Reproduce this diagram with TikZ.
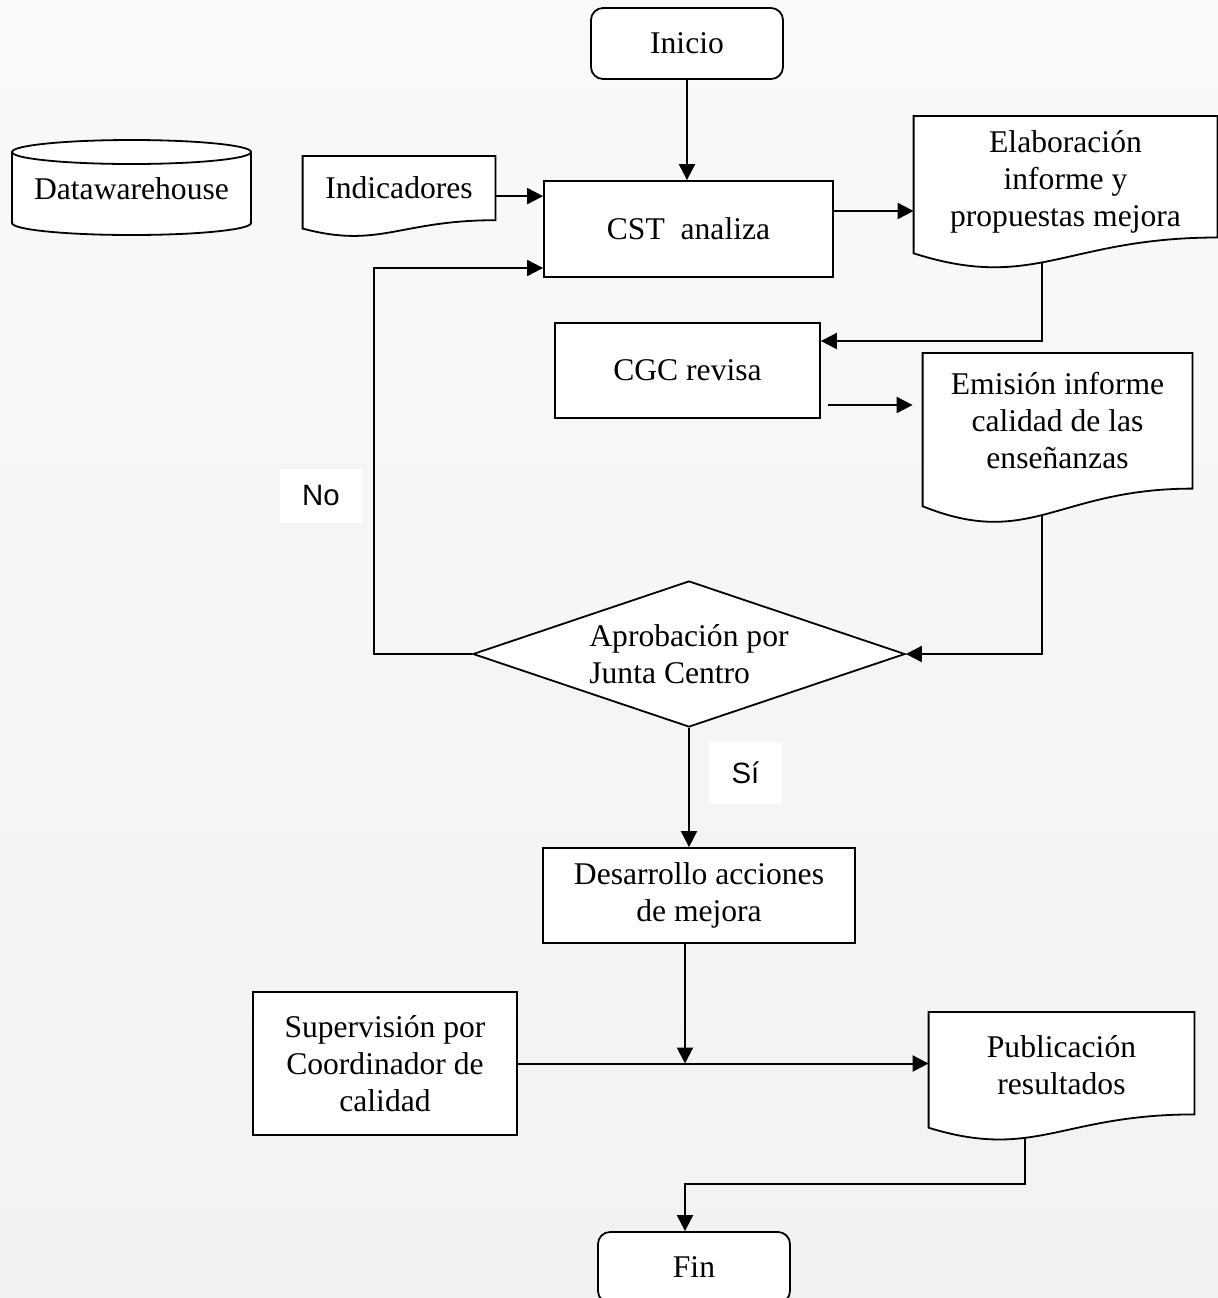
\documentclass[tikz,border=0pt]{standalone}
\usepackage{fontspec}
\setmainfont{Liberation Serif}
\newfontfamily\labelfont{Liberation Sans}
\usetikzlibrary{calc,shapes.geometric,arrows.meta}
\pgfdeclarelayer{bg}
\pgfdeclarelayer{wires}
\pgfdeclarelayer{docs}
\pgfsetlayers{bg,wires,docs,main}
\definecolor{bgtop}{HTML}{F9F9F9}
\definecolor{bgmid}{HTML}{DEDEDE}
\definecolor{bgbot}{HTML}{F2F2F2}

% wavy document outline under a named node (#1 = extra room on top)
\newcommand{\docshape}[2][0]{%
  \draw[docline] let \p1=($(#2.north west)+(0,-#1)$), \p2=(#2.south east) in
    (\p1) -- (\x2,\y1) -- (\p2)
    .. controls ({(\x1+\x2)/2},\y2) and ({\x1+0.4*(\x2-\x1)},{\y2-0.45*(\y1-\y2)}) ..
    (\x1,{\y2-0.13*(\y1-\y2)}) -- cycle;}

\begin{document}
\begin{tikzpicture}[x=0.5pt,y=-0.5pt,
  every node/.style={font=\fontsize{15.8}{18.5}\selectfont},
  box/.style={draw,fill=white,line width=0.9pt,inner sep=2pt,align=center},
  term/.style={box,rounded corners=6pt,minimum width=96pt,minimum height=35.5pt},
  doc/.style={anchor=north,inner sep=2pt,align=center},
  tag/.style={fill=white,inner sep=0pt,font=\labelfont\fontsize{14.7}{17}\selectfont},
  wire/.style={line width=1pt,-{Triangle[length=8pt,width=8pt]}},
  docline/.style={draw,fill=white,line width=0.9pt}]
\useasboundingbox (0,0) rectangle (1218,1298);
\begin{pgfonlayer}{bg}
\shade[top color=bgtop,middle color=bgmid,bottom color=bgbot] (0,0) rectangle (1218,1298);
\end{pgfonlayer}

\node[term] (inicio) at (687,43.5) {Inicio};
\node (dw) at (131.5,189) {Datawarehouse};
\node[doc,minimum width=96pt,minimum height=31.7pt] (indic) at (399,156) {Indicadores};
\node[box,minimum width=144.5pt,minimum height=48pt] (cst) at (688.5,229) {CST\ \ analiza};
\node[doc,minimum width=151.5pt,minimum height=54pt] (elab) at (1065.5,126) {Elaboración\\informe y\\propuestas mejora};
\node[box,minimum width=132.5pt,minimum height=47.5pt] (cgc) at (687.5,370.5) {CGC revisa};
\node[doc,minimum width=134.5pt,minimum height=67.4pt] (emis) at (1057.5,353) {Emisión informe\\calidad de las\\enseñanzas};
\node[draw,fill=white,diamond,aspect=2.96,minimum width=216pt,minimum height=73pt,
  inner sep=0pt,line width=0.9pt,align=left] (aprob) at (689,654) {Aprobación por\\Junta Centro};
\node[tag,minimum width=41pt,minimum height=27pt] (no) at (321,496) {No};
\node[tag,minimum width=36.5pt,minimum height=31pt] (si) at (745.5,773) {Sí};
\node[box,minimum width=156pt,minimum height=47.5pt] (des) at (699,895.5) {Desarrollo acciones\\de mejora};
\node[box,minimum width=132pt,minimum height=71.5pt] (sup) at (385,1063.5) {Supervisión por\\Coordinador de\\calidad};
\node[doc,minimum width=132.5pt,minimum height=49.3pt] (pub) at (1061.5,1015) {Publicación\\resultados};
\node[term] (fin) at (694,1267.5) {Fin};

\begin{pgfonlayer}{docs}
\draw[docline] (12,152) -- (12,223) arc[start angle=180,end angle=0,x radius=119.5,y radius=12]
  -- (251,152) arc[start angle=0,end angle=-180,x radius=119.5,y radius=12] -- cycle;
\draw[line width=0.9pt] (12,152) arc[start angle=180,end angle=0,x radius=119.5,y radius=12];
\docshape{indic}
\docshape[10]{elab}
\docshape{emis}
\docshape[3]{pub}
\end{pgfonlayer}

\begin{pgfonlayer}{wires}
\draw[wire] (inicio.south) -- (inicio.south |- cst.north);
\draw[wire] ($(indic.east)+(0,8)$) coordinate (i1) -- (i1 -| cst.west);
\draw[wire] ($(cst.east)+(0,-18)$) coordinate (c1) -- (c1 -| elab.west);
\draw[wire] ($(elab.south)+(-23.5,0)$) |- ($(cgc.east)+(0,-29.5)$);
\draw[wire] ($(cgc.east)+(7,34.5)$) coordinate (g1) -- ($(g1 -| emis.west)+(-10,0)$);
\draw[wire] ($(emis.south)+(-15.5,0)$) |- (aprob.east);
\draw[wire] (aprob.west) -| ($(cst.west)+(-169,39)$) -- ($(cst.west)+(0,39)$);
\draw[wire] (aprob.south) -- (aprob.south |- des.north);
\draw[wire] ($(des.south)+(-14,0)$) coordinate (d1) -- (d1 |- sup.east);
\draw[wire] (sup.east) -- (sup.east -| pub.west);
\draw[wire] ($(pub.south)+(-36.5,0)$) |- ($(fin.north)+(-9,-47)$) -- ($(fin.north)+(-9,0)$);
\end{pgfonlayer}
\end{tikzpicture}
\end{document}
